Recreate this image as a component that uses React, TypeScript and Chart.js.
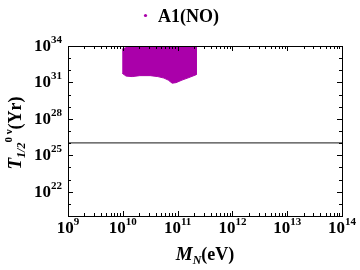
import React, { useEffect, useRef } from "react";
import { Chart, registerables } from "chart.js";

Chart.register(...registerables);

// ---- data ----
const seriesLabel = "A1(NO)";
const xRangeExp = [9, 14];
const yRangeExp = [20, 34];
const xTickExps = [9, 10, 11, 12, 13, 14];
const yTickExps = [22, 25, 28, 31, 34];
const limitHalfLife = 1.07e26;
// boundary of the allowed scatter region (log10 M_N [eV], log10 T [yr])
const cloudLogM = [9.99, 10.09, 10.22, 11.34, 11.34, 11.23, 11.08, 10.97, 10.9, 10.83, 10.75, 10.64, 10.5, 10.31, 10.17, 10.06, 9.99];
const cloudLogT = [33.75, 33.92, 34.0, 34.0, 31.64, 31.44, 31.19, 30.98, 30.94, 31.19, 31.36, 31.48, 31.56, 31.56, 31.48, 31.52, 31.75];

const PURPLE = "rgb(170,0,170)";
const SERIF = '"Liberation Serif", "Times New Roman", serif';

type Part = { t: string; font: string; dy: number };

function partsWidth(ctx: CanvasRenderingContext2D, parts: Part[]) {
  let w = 0;
  for (const p of parts) {
    ctx.font = p.font;
    w += ctx.measureText(p.t).width;
  }
  return w;
}
function drawParts(ctx: CanvasRenderingContext2D, parts: Part[], x: number, y: number) {
  let cx = x;
  ctx.textBaseline = "alphabetic";
  ctx.textAlign = "left";
  for (const p of parts) {
    ctx.font = p.font;
    ctx.fillText(p.t, cx, y + p.dy);
    cx += ctx.measureText(p.t).width;
  }
}
function powerParts(exp: number): Part[] {
  return [
    { t: "10", font: `bold 17px ${SERIF}`, dy: 0 },
    { t: String(exp), font: `bold 11px ${SERIF}`, dy: -8 },
  ];
}

const framePlugin = {
  id: "framePlugin",
  afterDatasetsDraw(chart: any) {
    const ctx: CanvasRenderingContext2D = chart.ctx;
    const { left, right, top, bottom } = chart.chartArea;
    const xs = chart.scales.x;
    const ys = chart.scales.y;
    ctx.save();
    ctx.strokeStyle = "#000";
    ctx.lineWidth = 1;
    ctx.strokeRect(Math.round(left) + 0.5, Math.round(top) + 0.5, Math.round(right - left), Math.round(bottom - top));
    ctx.beginPath();
    // x ticks
    for (let d = xRangeExp[0]; d <= xRangeExp[1]; d++) {
      for (let k = 1; k <= 9; k++) {
        const v = k * Math.pow(10, d);
        if (v > Math.pow(10, xRangeExp[1]) * 1.0001) break;
        const px = Math.round(xs.getPixelForValue(v)) + 0.5;
        const len = k === 1 ? 5 : 3;
        ctx.moveTo(px, bottom);
        ctx.lineTo(px, bottom - len);
        ctx.moveTo(px, top);
        ctx.lineTo(px, top + len);
      }
    }
    // y ticks
    for (let d = yRangeExp[0]; d <= yRangeExp[1]; d++) {
      const py = Math.round(ys.getPixelForValue(Math.pow(10, d))) + 0.5;
      const len = yTickExps.includes(d) ? 5 : 3;
      ctx.moveTo(left, py);
      ctx.lineTo(left + len, py);
      ctx.moveTo(right, py);
      ctx.lineTo(right - len, py);
    }
    ctx.stroke();

    ctx.fillStyle = "#000";
    // x tick labels
    for (const e of xTickExps) {
      const px = xs.getPixelForValue(Math.pow(10, e));
      const parts = powerParts(e);
      const w = partsWidth(ctx, parts);
      drawParts(ctx, parts, px - w / 2, 233);
    }
    // y tick labels
    for (const e of yTickExps) {
      const py = ys.getPixelForValue(Math.pow(10, e));
      const parts = powerParts(e);
      const w = partsWidth(ctx, parts);
      drawParts(ctx, parts, 62 - w, py + 5);
    }
    // x title
    const xt: Part[] = [
      { t: "M", font: `italic bold 19px ${SERIF}`, dy: 0 },
      { t: "N", font: `italic bold 12px ${SERIF}`, dy: 4 },
      { t: "(eV)", font: `bold 18px ${SERIF}`, dy: 0 },
    ];
    const xw = partsWidth(ctx, xt);
    drawParts(ctx, xt, (left + right) / 2 - xw / 2, 260);
    // y title (rotated)
    const yt: Part[] = [
      { t: "T", font: `italic bold 19px ${SERIF}`, dy: 0 },
      { t: "1/2", font: `italic bold 12px ${SERIF}`, dy: 4 },
      { t: "0", font: `bold 11px ${SERIF}`, dy: -9 },
      { t: " ν", font: `bold 11px ${SERIF}`, dy: -9 },
      { t: "(Yr)", font: `bold 18px ${SERIF}`, dy: 0 },
    ];
    const yw = partsWidth(ctx, yt);
    ctx.save();
    ctx.translate(21, 133);
    ctx.rotate(-Math.PI / 2);
    drawParts(ctx, yt, -yw / 2, 0);
    ctx.restore();
    // legend
    ctx.fillStyle = PURPLE;
    ctx.beginPath();
    ctx.arc(145.5, 15.5, 1.6, 0, Math.PI * 2);
    ctx.fill();
    ctx.fillStyle = "#000";
    ctx.font = `bold 18px ${SERIF}`;
    ctx.textAlign = "left";
    ctx.textBaseline = "alphabetic";
    ctx.fillText(seriesLabel, 158, 22);
    ctx.restore();
  },
};

export default function App() {
  const ref = useRef<HTMLCanvasElement>(null);
  useEffect(() => {
    document.body.style.margin = "0";
    const canvas = ref.current!;
    const cloud = cloudLogM.map((m, i) => ({ x: Math.pow(10, m), y: Math.pow(10, cloudLogT[i]) }));
    const chart = new Chart(canvas, {
      type: "scatter",
      data: {
        datasets: [
          {
            type: "line",
            label: seriesLabel,
            data: cloud,
            showLine: true,
            fill: "shape",
            backgroundColor: PURPLE,
            borderColor: PURPLE,
            borderWidth: 1,
            pointRadius: 0,
            tension: 0,
          } as any,
          {
            type: "line",
            label: "limit",
            data: [
              { x: Math.pow(10, xRangeExp[0]), y: limitHalfLife },
              { x: Math.pow(10, xRangeExp[1]), y: limitHalfLife },
            ],
            borderColor: "#444",
            borderWidth: 1.3,
            pointRadius: 0,
            fill: false,
          } as any,
        ],
      },
      options: {
        animation: false,
        responsive: false,
        events: [],
        layout: { padding: { top: 46, right: 18, left: 0, bottom: 0 } },
        plugins: { legend: { display: false }, tooltip: { enabled: false }, title: { display: false } },
        scales: {
          x: {
            type: "logarithmic",
            min: Math.pow(10, xRangeExp[0]),
            max: Math.pow(10, xRangeExp[1]),
            grid: { display: false },
            border: { display: false },
            ticks: { display: false },
            afterFit: (s: any) => {
              s.height = 54;
            },
          },
          y: {
            type: "logarithmic",
            min: Math.pow(10, yRangeExp[0]),
            max: Math.pow(10, yRangeExp[1]),
            grid: { display: false },
            border: { display: false },
            ticks: { display: false },
            afterFit: (s: any) => {
              s.width = 68;
            },
          },
        },
      },
      plugins: [framePlugin],
    });
    return () => chart.destroy();
  }, []);
  return (
    <div style={{ width: 360, height: 270, background: "#fff" }}>
      <canvas ref={ref} width={360} height={270} style={{ display: "block" }} />
    </div>
  );
}
